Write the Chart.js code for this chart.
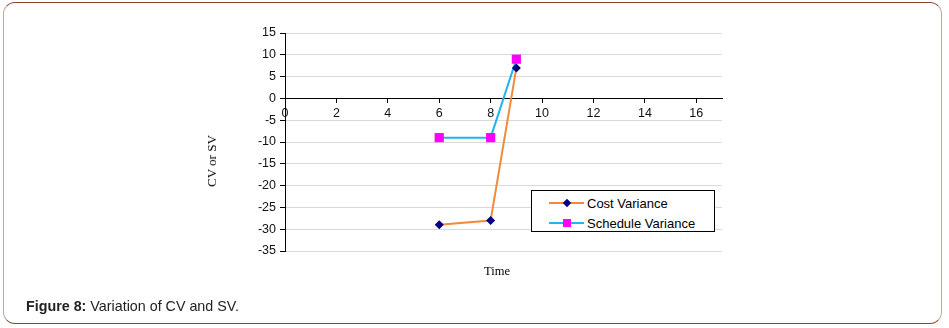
<!DOCTYPE html>
<html lang="en">
<head>
  <meta charset="UTF-8">
  <title>Variation of CV and SV</title>
  <script src="https://cdn.jsdelivr.net/npm/chart.js"></script>
  <style>
    body { margin: 0; background: #fff; font-family: "Liberation Sans", Arial, sans-serif; }
    .figure { position: relative; width: 949px; height: 328px; overflow: hidden; }
    .frame { position: absolute; left: 3px; top: 2px; width: 937px; height: 320px;
             border: 1.5px solid #8b4433; border-left-color: #c4a7a0; border-right-color: #c4a7a0;
             border-radius: 12px; }
    #chart { position: absolute; left: 0; top: 0; }
    .y-title { position: absolute; left: 212px; top: 161px; transform: translate(-50%, -50%) rotate(-90deg);
               font: 13px "Liberation Serif", "Times New Roman", serif; color: #000; white-space: nowrap; }
    .x-title { position: absolute; left: 497px; top: 271px; transform: translate(-50%, -50%);
               font: 12.5px "Liberation Serif", "Times New Roman", serif; color: #000; }
    .caption { position: absolute; left: 26px; top: 298px; font-size: 14.3px; color: #222; white-space: nowrap; }
    .legend { position: absolute; left: 531px; top: 190px; width: 182px; height: 40px;
              border: 1px solid #000; background: #fff; font-size: 13px; color: #000; }
    .legend .row { position: absolute; left: 17px; height: 16px; display: flex; align-items: center; }
    .legend .sample { position: relative; width: 35px; height: 2px; margin-right: 3px; }
    .legend .mark { position: absolute; left: 50%; top: 50%; }
  </style>
</head>
<body>
  <div class="figure">
    <div class="frame"></div>
    <canvas id="chart" width="949" height="328"></canvas>
    <div class="y-title">CV or SV</div>
    <div class="x-title">Time</div>
    <div class="legend" id="legend"></div>
    <div class="caption"><b>Figure 8:</b> Variation of CV and SV.</div>
  </div>

  <script>
    // Earned value figures per reporting time
    const timePoints = [6, 8, 9];
    const costVariance = [-29, -28, 7];
    const scheduleVariance = [-9, -9, 9];
    const seriesNames = ['Cost Variance', 'Schedule Variance'];

    // Axis ranges
    const xRange = [0, 17];
    const xStep = 2;
    const yRange = [-35, 15];
    const yStep = 5;

    const tickFont = { family: '"Liberation Sans", Arial, sans-serif', size: 12.5 };

    const toPoints = (ys) => timePoints.map((t, i) => ({ x: t, y: ys[i] }));

    const datasets = [
      {
        label: seriesNames[0],
        data: toPoints(costVariance),
        borderColor: '#f28a3c',
        backgroundColor: '#000080',
        pointStyle: 'rectRot',
        pointRadius: 4.5,
        pointBorderWidth: 0,
        borderWidth: 2
      },
      {
        label: seriesNames[1],
        data: toPoints(scheduleVariance),
        borderColor: '#22b4ea',
        backgroundColor: '#ff00ff',
        pointStyle: 'rect',
        pointRadius: 6.5,
        pointBorderWidth: 0,
        borderWidth: 2
      }
    ];

    new Chart(document.getElementById('chart'), {
      type: 'line',
      data: { datasets: datasets },
      options: {
        responsive: false,
        animation: false,
        events: [],
        layout: { padding: { left: 235, right: 227, top: 33, bottom: 77 } },
        elements: { line: { tension: 0 } },
        plugins: { legend: { display: false }, tooltip: { enabled: false } },
        scales: {
          x: {
            type: 'linear',
            position: { y: 0 },
            min: xRange[0],
            max: xRange[1],
            ticks: { stepSize: xStep, includeBounds: false, padding: 4, color: '#111', font: tickFont, maxRotation: 0 },
            grid: { drawOnChartArea: false, tickLength: 4, tickColor: '#000' },
            border: { color: '#000', width: 1 }
          },
          y: {
            type: 'linear',
            min: yRange[0],
            max: yRange[1],
            ticks: { stepSize: yStep, padding: 4, color: '#111', font: tickFont },
            grid: { color: '#d9d9d9', tickLength: 5, tickColor: '#000' },
            border: { color: '#000', width: 1 },
            afterFit: (scale) => { scale.width = 50; }
          }
        }
      }
    });

    // Legend box built from the dataset styles
    const legend = document.getElementById('legend');
    datasets.forEach((ds, i) => {
      const row = document.createElement('div');
      row.className = 'row';
      row.style.top = (4 + i * 20) + 'px';
      const sample = document.createElement('span');
      sample.className = 'sample';
      sample.style.background = ds.borderColor;
      const mark = document.createElement('span');
      mark.className = 'mark';
      mark.style.background = ds.backgroundColor;
      if (ds.pointStyle === 'rectRot') {
        mark.style.width = '6px'; mark.style.height = '6px';
        mark.style.transform = 'translate(-50%, -50%) rotate(45deg)';
      } else {
        mark.style.width = '8px'; mark.style.height = '8px';
        mark.style.transform = 'translate(-50%, -50%)';
      }
      sample.appendChild(mark);
      const text = document.createElement('span');
      text.textContent = ds.label;
      row.appendChild(sample);
      row.appendChild(text);
      legend.appendChild(row);
    });
  </script>
</body>
</html>
